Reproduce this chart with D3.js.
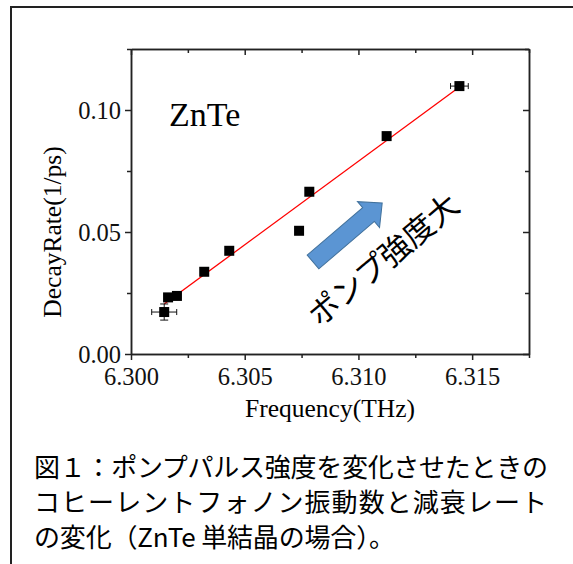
<!DOCTYPE html>
<html>
<head>
<meta charset="utf-8">
<script src="https://cdn.jsdelivr.net/npm/d3@7"></script>
<style>
  body { margin: 0; background: #fff; }
  svg { display: block; }
</style>
</head>
<body>
<svg width="573" height="564"></svg>
<script>
// Data
const freq = [6.30146, 6.30163, 6.30202, 6.30322, 6.30432, 6.30739, 6.30784, 6.31124, 6.31444];
const rate = [0.0172, 0.0232, 0.0238, 0.0337, 0.0423, 0.0505, 0.0665, 0.0893, 0.1098];
const freqErr = [0.00055, 0.0001, 0.0001, 0.0001, 0.0001, 0.0001, 0.0001, 0.0001, 0.00039];
const rateErr = [0.0033, 0.0005, 0.0005, 0.0005, 0.0005, 0.0005, 0.0005, 0.0005, 0.0005];

// linear fit line end points
const fitX = [6.30146, 6.31444];
const fitY = [0.0205, 0.1094];

const xMajor = [6.300, 6.305, 6.310, 6.315];
const xMinor = [6.3025, 6.3075, 6.3125, 6.3175];
const yMajor = [0.00, 0.05, 0.10];
const yMinor = [0.025, 0.075, 0.125];

const captionLines = [
  "図１：ポンプパルス強度を変化させたときの",
  "コヒーレントフォノン振動数と減衰レート",
  "の変化（ZnTe 単結晶の場合）。"
];

const svg = d3.select("svg");
const serif = "'Liberation Serif', 'Times New Roman', serif";
const jp = "'Noto Sans CJK JP', sans-serif";

// outer frame
svg.append("rect")
  .attr("x", 11).attr("y", 7)
  .attr("width", 700).attr("height", 700)
  .attr("fill", "none")
  .attr("stroke", "#222")
  .attr("stroke-width", 2);

const x = d3.scaleLinear().domain([6.300, 6.3175]).range([131, 529]);
const y = d3.scaleLinear().domain([0, 0.125]).range([354, 49]);

function styleAxis(g) {
  g.selectAll("path, line").attr("stroke", "#222").attr("stroke-width", 1.5);
  g.selectAll("text").attr("font-family", serif).attr("font-size", 24.5).attr("fill", "#111");
}

// bottom axis
svg.append("g")
  .attr("transform", `translate(0,${y(0)})`)
  .call(d3.axisBottom(x).tickValues(xMajor).tickSize(6).tickSizeOuter(0).tickFormat(d3.format(".3f")))
  .call(styleAxis)
  .call(g => g.selectAll("text").attr("dy", null).attr("y", 31));
svg.append("g")
  .attr("transform", `translate(0,${y(0)})`)
  .call(d3.axisBottom(x).tickValues(xMinor).tickSize(4).tickSizeOuter(0).tickFormat(""))
  .call(styleAxis);

// top axis (inward ticks)
svg.append("g")
  .attr("transform", `translate(0,${y(0.125)})`)
  .call(d3.axisTop(x).tickValues(xMajor).tickSize(-6).tickSizeOuter(0).tickFormat(""))
  .call(styleAxis);
svg.append("g")
  .attr("transform", `translate(0,${y(0.125)})`)
  .call(d3.axisTop(x).tickValues(xMinor).tickSize(-4).tickSizeOuter(0).tickFormat(""))
  .call(styleAxis);

// left axis
svg.append("g")
  .attr("transform", `translate(${x(6.300)},0)`)
  .call(d3.axisLeft(y).tickValues(yMajor).tickSize(6).tickSizeOuter(0).tickFormat(d3.format(".2f")))
  .call(styleAxis)
  .call(g => g.selectAll("text").attr("x", -10).attr("dy", "0.34em"));
svg.append("g")
  .attr("transform", `translate(${x(6.300)},0)`)
  .call(d3.axisLeft(y).tickValues(yMinor).tickSize(4).tickSizeOuter(0).tickFormat(""))
  .call(styleAxis);

// right axis (inward ticks)
svg.append("g")
  .attr("transform", `translate(${x(6.3175)},0)`)
  .call(d3.axisRight(y).tickValues(yMajor).tickSize(-6).tickSizeOuter(0).tickFormat(""))
  .call(styleAxis);
svg.append("g")
  .attr("transform", `translate(${x(6.3175)},0)`)
  .call(d3.axisRight(y).tickValues(yMinor).tickSize(-4).tickSizeOuter(0).tickFormat(""))
  .call(styleAxis);

// axis titles
svg.append("text")
  .attr("x", x(6.30875)).attr("y", 417)
  .attr("text-anchor", "middle")
  .attr("font-family", serif).attr("font-size", 25.5)
  .text("Frequency(THz)");

svg.append("text")
  .attr("transform", "translate(61,232) rotate(-90)")
  .attr("text-anchor", "middle")
  .attr("font-family", serif).attr("font-size", 25.5)
  .text("DecayRate(1/ps)");

// fit line
svg.append("line")
  .attr("x1", x(fitX[0])).attr("y1", y(fitY[0]))
  .attr("x2", x(fitX[1])).attr("y2", y(fitY[1]))
  .attr("stroke", "#ff0000")
  .attr("stroke-width", 1.3);

const pts = freq.map((f, i) => ({ f, r: rate[i], fe: freqErr[i], re: rateErr[i] }));

// error bars
const eb = svg.append("g").attr("stroke", "#111").attr("stroke-width", 1);
eb.selectAll(".ex").data(pts).join("line")
  .attr("x1", d => x(d.f - d.fe)).attr("x2", d => x(d.f + d.fe))
  .attr("y1", d => y(d.r)).attr("y2", d => y(d.r));
eb.selectAll(".exc").data(pts.flatMap(d => [d.f - d.fe, d.f + d.fe].map(v => ({ v, r: d.r })))).join("line")
  .attr("x1", d => x(d.v)).attr("x2", d => x(d.v))
  .attr("y1", d => y(d.r) - 3).attr("y2", d => y(d.r) + 3);
eb.selectAll(".ey").data(pts).join("line")
  .attr("x1", d => x(d.f)).attr("x2", d => x(d.f))
  .attr("y1", d => y(d.r - d.re)).attr("y2", d => y(d.r + d.re));
eb.selectAll(".eyc").data(pts.flatMap(d => [d.r - d.re, d.r + d.re].map(v => ({ v, f: d.f })))).join("line")
  .attr("x1", d => x(d.f) - 4).attr("x2", d => x(d.f) + 4)
  .attr("y1", d => y(d.v)).attr("y2", d => y(d.v));

// square markers
svg.append("g").selectAll("rect").data(pts).join("rect")
  .attr("x", d => x(d.f) - 5).attr("y", d => y(d.r) - 5)
  .attr("width", 10).attr("height", 10)
  .attr("fill", "#000");

// label
svg.append("text")
  .attr("x", 169).attr("y", 126)
  .attr("font-family", serif).attr("font-size", 34)
  .text("ZnTe");

// blue block arrow
const arrow = "M0,-9 L73,-9 L73,-17 L91,0 L73,17 L73,9 L0,9 Z";
svg.append("path")
  .attr("d", arrow)
  .attr("transform", "translate(313,262) rotate(-40.5)")
  .attr("fill", "#5b95d3")
  .attr("stroke", "#41719c")
  .attr("stroke-width", 1);

svg.append("text")
  .attr("transform", "translate(382,258) rotate(-40)")
  .attr("text-anchor", "middle")
  .attr("dominant-baseline", "central")
  .attr("font-family", jp).attr("font-size", 31)
  .text("ポンプ強度大");

// caption
const capLen = [514, 513, 361];
svg.append("g").selectAll("text").data(captionLines).join("text")
  .attr("x", 34)
  .attr("y", (d, i) => 477 + i * 35)
  .attr("font-family", jp).attr("font-size", 26)
  .attr("textLength", (d, i) => capLen[i])
  .attr("lengthAdjust", "spacing")
  .text(d => d);
</script>
</body>
</html>
